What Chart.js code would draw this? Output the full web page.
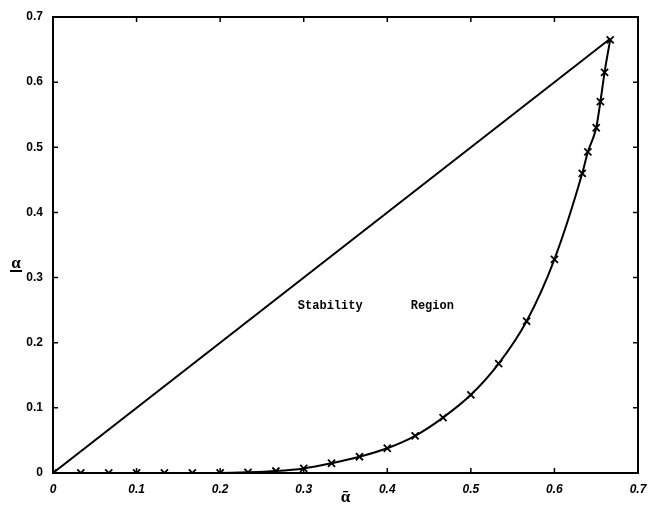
<!DOCTYPE html>
<html>
<head>
<meta charset="utf-8">
<script src="https://cdn.jsdelivr.net/npm/chart.js@4.4.1/dist/chart.umd.min.js"></script>
<style>
  html, body { margin: 0; padding: 0; background: #fff; }
  #wrap { width: 649px; height: 508px; }
</style>
</head>
<body>
<div id="wrap"><canvas id="myChart" width="649" height="508"></canvas></div>
<script>
// curve points (alpha-bar, alpha)
const alphaBar = [0, 0.0333, 0.0667, 0.1, 0.1333, 0.1667, 0.2, 0.2333, 0.2667, 0.3, 0.3333, 0.3667,
                  0.4, 0.4333, 0.4667, 0.5, 0.5333, 0.5667, 0.6, 0.6333, 0.64, 0.65, 0.655, 0.66, 0.6667];
const alphaVals = [0, 0, 0, 0, 0, 0, 0, 0.001, 0.003, 0.007, 0.015, 0.025,
                   0.038, 0.057, 0.085, 0.12, 0.168, 0.233, 0.328, 0.46, 0.493, 0.53, 0.57, 0.615, 0.665];
// straight boundary alpha = alpha-bar
const lineX = [0, 0.6667];
const lineY = [0, 0.6667];
const tickVals = [0, 0.1, 0.2, 0.3, 0.4, 0.5, 0.6, 0.7];
const regionWords = ['Stability', 'Region'];
const regionX = [0.293, 0.428];
const regionY = 0.257;

function toPoints(xs, ys) {
    return xs.map((x, i) => ({ x: x, y: ys[i] }));
}

// box + inward ticks, matlab style
const framePlugin = {
    id: 'frame',
    afterDraw(chart) {
        const ctx = chart.ctx;
        const a = chart.chartArea;
        const xs = chart.scales.x, ys = chart.scales.y;
        ctx.save();
        ctx.strokeStyle = '#000';
        ctx.lineWidth = 2;
        ctx.strokeRect(a.left, a.top, a.right - a.left, a.bottom - a.top);
        ctx.lineWidth = 1.5;
        ctx.beginPath();
        tickVals.forEach(v => {
            const px = xs.getPixelForValue(v);
            ctx.moveTo(px, a.bottom); ctx.lineTo(px, a.bottom - 5);
            ctx.moveTo(px, a.top); ctx.lineTo(px, a.top + 5);
            const py = ys.getPixelForValue(v);
            ctx.moveTo(a.left, py); ctx.lineTo(a.left + 5, py);
            ctx.moveTo(a.right, py); ctx.lineTo(a.right - 5, py);
        });
        ctx.stroke();

        // text in the plot
        ctx.fillStyle = '#000';
        ctx.font = 'bold 12px "Liberation Mono"';
        ctx.textBaseline = 'middle';
        ctx.textAlign = 'left';
        regionWords.forEach((w, i) => {
            ctx.fillText(w, xs.getPixelForValue(regionX[i]), ys.getPixelForValue(regionY));
        });

        // y axis label: alpha with a bar under it
        ctx.font = 'bold 17px "Liberation Serif"';
        ctx.textAlign = 'center';
        ctx.textBaseline = 'alphabetic';
        ctx.fillText('\u03B1', 16, 268);
        ctx.fillRect(10, 270, 12, 2);
        ctx.restore();
    }
};

const ctx = document.getElementById('myChart').getContext('2d');
const myChart = new Chart(ctx, {
    type: 'scatter',
    data: {
        datasets: [{
            data: toPoints(lineX, lineY),
            showLine: true,
            borderColor: '#000',
            borderWidth: 2,
            pointRadius: 0
        }, {
            data: toPoints(alphaBar, alphaVals),
            showLine: true,
            borderColor: '#000',
            borderWidth: 2,
            cubicInterpolationMode: 'monotone',
            pointStyle: 'crossRot',
            pointRadius: 5,
            pointBorderWidth: 1.8,
            pointBorderColor: '#000'
        }]
    },
    options: {
        responsive: false,
        animation: false,
        layout: { padding: { top: 17, right: 11, left: 0, bottom: 0 } },
        plugins: {
            legend: { display: false },
            tooltip: { enabled: false }
        },
        scales: {
            x: {
                type: 'linear',
                min: 0, max: 0.7,
                afterBuildTicks: s => { s.ticks = tickVals.map(v => ({ value: v })); },
                afterFit: s => { s.height = 35; },
                grid: { display: false },
                border: { display: false },
                ticks: {
                    color: '#000',
                    padding: 1,
                    maxRotation: 0,
                    font: { family: 'Liberation Sans', size: 12, weight: 'bold', style: 'italic' },
                    callback: v => v === 0 ? '0' : v.toFixed(1)
                },
                title: {
                    display: true,
                    text: '\u1FB1',
                    color: '#000',
                    padding: { top: 0, bottom: 0 },
                    font: { family: 'Liberation Serif', size: 17, weight: 'bold' }
                }
            },
            y: {
                type: 'linear',
                min: 0, max: 0.7,
                afterBuildTicks: s => { s.ticks = tickVals.map(v => ({ value: v })); },
                afterFit: s => { s.width = 53; },
                grid: { display: false },
                border: { display: false },
                ticks: {
                    color: '#000',
                    padding: 2,
                    font: { family: 'Liberation Sans', size: 12, weight: 'bold' },
                    callback: v => v === 0 ? '0' : v.toFixed(1)
                }
            }
        }
    },
    plugins: [framePlugin]
});
</script>
</body>
</html>
